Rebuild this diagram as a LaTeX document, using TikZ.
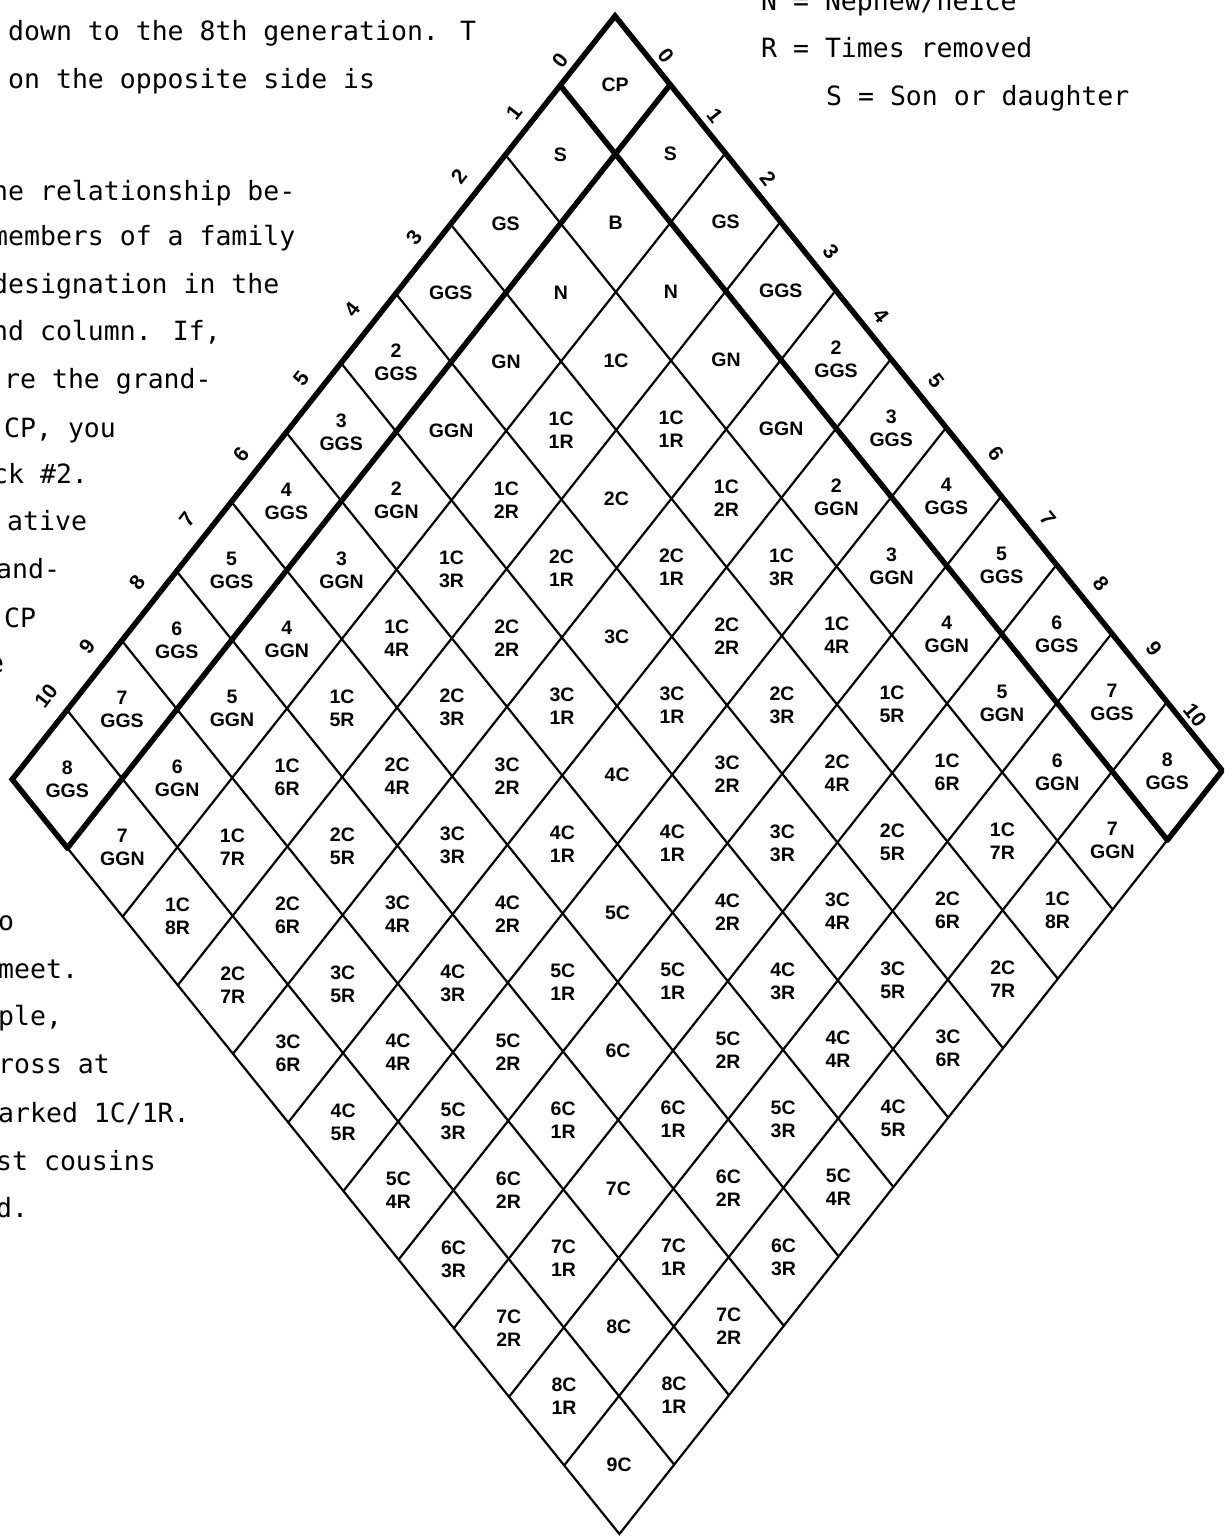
\documentclass[tikz,border=0pt]{standalone}
\usepackage{fontspec}
\usetikzlibrary{calc}
\newfontfamily\typefont{DejaVu Sans Mono}
\newfontfamily\cellfont{Liberation Sans}
\tikzset{
  gridthin/.style={line width=2.2pt, line cap=round},
  gridthick/.style={line width=5.5pt, line cap=round, line join=miter},
  cell/.style={font=\cellfont\bfseries\fontsize{19.5}{23}\selectfont, align=center, inner sep=0pt},
  edgelab/.style={font=\cellfont\bfseries\fontsize{21}{21}\selectfont, inner sep=0pt},
  prose/.style={font=\typefont\fontsize{26.5}{30}\selectfont, anchor=base west, inner sep=0pt},
}
\begin{document}
\begin{tikzpicture}[x=1pt,y=-1pt]
\fill[white] (0,0) rectangle (1224,1540);
\useasboundingbox (0,0) rectangle (1224,1540);
\clip (0,0) rectangle (1224,1540);
% grid geometry
\coordinate (T) at (615,16);
\coordinate (U) at (-54.8,69.4);
\coordinate (V) at (55.2,68.6);
\foreach \i in {0,...,11}{\foreach \j in {0,...,11}{
  \coordinate (p-\i-\j) at ($(T)+\i*(U)+\j*(V)$);
}}
% thin grid lines
\foreach \k in {2,...,10}{
  \draw[gridthin] (p-\k-0) -- (p-\k-11);
  \draw[gridthin] (p-0-\k) -- (p-11-\k);
}
\draw[gridthin] (p-11-1) -- (p-11-11) -- (p-1-11);
% thick lines
\draw[gridthick] (p-11-1) -- (p-11-0) -- (p-0-0) -- (p-0-11) -- (p-1-11);
\draw[gridthick] (p-0-1) -- (p-11-1);
\draw[gridthick] (p-1-0) -- (p-1-11);
% cell labels
\foreach \i in {0,...,10}{\foreach \j in {0,...,10}{
  \pgfmathtruncatemacro{\ca}{max(\i,\j)}
  \pgfmathtruncatemacro{\cb}{min(\i,\j)}
  \pgfmathtruncatemacro{\cd}{\ca-\cb}
  \pgfmathtruncatemacro{\cn}{\cb-1}
  \pgfmathtruncatemacro{\cg}{\ca-2}
  \pgfmathtruncatemacro{\ch}{\ca-3}
  \pgfmathsetmacro{\ci}{\i+0.5}
  \pgfmathsetmacro{\cj}{\j+0.5}
  \ifnum\cb=0
    \ifcase\ca \def\lab{CP}\or \def\lab{S}\or \def\lab{GS}\or \def\lab{GGS}\else \edef\lab{\cg\noexpand\\GGS}\fi
  \else\ifnum\cb=1
    \ifcase\ca \or \def\lab{B}\or \def\lab{N}\or \def\lab{GN}\or \def\lab{GGN}\else \edef\lab{\ch\noexpand\\GGN}\fi
  \else
    \ifnum\cd=0 \edef\lab{\cn C}\else \edef\lab{\cn C\noexpand\\\cd R}\fi
  \fi\fi
  \node[cell] (c-\i-\j) at ($(T)+\ci*(U)+\cj*(V)$) {\lab};
}}
% edge numbers
\foreach \n/\x/\y in {0/560/60, 1/514/112, 2/459/176, 3/414/237, 4/352/309, 5/301/379,
                      6/241/454, 7/187/519, 8/137/582, 9/87/646, 10/46/696}{
  \node[edgelab, rotate=52] (ll-\n) at (\x,\y) {\n};
}
\foreach \n/\x/\y in {0/666/56, 1/715/116, 2/768/179, 3/831/252, 4/881/316, 5/936/381,
                      6/996/454, 7/1048/519, 8/1101/584, 9/1154/649, 10/1195/715}{
  \node[edgelab, rotate=-52] (rl-\n) at (\x,\y) {\n};
}
% prose, left
\node[prose] (t1) at (8,40) {down to the 8th generation. T};
\node[prose] (t2) at (8,88) {on the opposite side is};
\node[prose] (t3) at (-8,200) {ne relationship be-};
\node[prose] (t4) at (-8,245) {members of a family};
\node[prose] (t5) at (-8,293) {designation in the};
\node[prose] (t6) at (-8,340) {nd column.  If,};
\node[prose] (t7) at (4,388) {re the grand-};
\node[prose] (t8) at (4,437) {CP, you};
\node[prose] (t9) at (-8,483) {ck \#2.};
\node[prose] (t10) at (7,530) {ative};
\node[prose] (t11) at (-4,578) {and-};
\node[prose] (t12) at (4,627) {CP};
\node[prose] (t13) at (-12,672) {e};
\node[prose] (t14) at (-2,930) {o};
\node[prose] (t15) at (-2,978) {meet.};
\node[prose] (t16) at (-2,1025) {ple,};
\node[prose] (t17) at (-2,1073) {ross at};
\node[prose] (t18) at (-2,1122) {arked 1C/1R.};
\node[prose] (t19) at (-4,1170) {st cousins};
\node[prose] (t20) at (-4,1217) {d.};
% prose, top right
\node[prose] (k1) at (761,10) {N = Nephew/neice};
\node[prose] (k2) at (761,57) {R = Times removed};
\node[prose] (k3) at (826,105) {S = Son or daughter};
\end{tikzpicture}
\end{document}
